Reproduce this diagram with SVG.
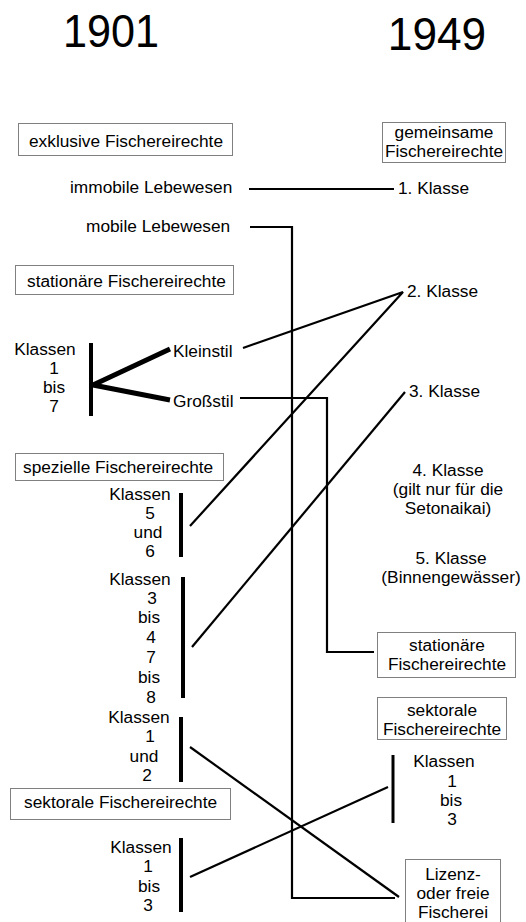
<svg xmlns="http://www.w3.org/2000/svg" width="526" height="922" viewBox="0 0 526 922">
<style>
text{font-family:"Liberation Sans",Arial,sans-serif;font-size:17.3px;fill:#000}
.t{font-size:47px;text-anchor:middle}
.c{text-anchor:middle}
.box{fill:#fff;stroke:#808080;stroke-width:1}
.ln{fill:none;stroke:#000;stroke-width:2.2}
.bar{fill:none;stroke:#000;stroke-width:4}
.br{fill:none;stroke:#000;stroke-width:5}
</style>
<rect width="526" height="922" fill="#fff"/>
<g id="connectors">
<path class="ln" d="M249,189 H394"/>
<path class="ln" d="M250,227 H292 V898 H395"/>
<path class="ln" d="M243,348 L403,292 L190,526"/>
<path class="ln" d="M240,398 H327 V652 H374"/>
<path class="ln" d="M405,392 L192,647"/>
<path class="ln" d="M190,747 L399,897"/>
<path class="ln" d="M190,877 L388,787"/>
<path class="br" d="M93,385 L170,349 M93,385 L170,400"/>
</g>
<g id="title1901"><text class="t" transform="translate(111,47) scale(0.92,1)">1901</text></g>
<g id="title1949"><text class="t" transform="translate(437,50) scale(0.94,1)">1949</text></g>
<g id="exklusive"><rect class="box" x="18.5" y="123.5" width="214" height="32"/><text x="29" y="147">exklusive Fischereirechte</text></g>
<g id="gemeinsame"><rect class="box" x="382.5" y="122.5" width="123" height="40"/><text class="c" x="444" y="138">gemeinsame</text><text class="c" x="444" y="157">Fischereirechte</text></g>
<g id="immobile"><text x="70" y="193">immobile Lebewesen</text></g>
<g id="klasse1"><text x="398" y="194">1. Klasse</text></g>
<g id="mobile"><text x="86" y="232">mobile Lebewesen</text></g>
<g id="stationaer-left"><rect class="box" x="15.5" y="265.5" width="218" height="29"/><text x="27" y="287">stationäre Fischereirechte</text></g>
<g id="klassen1-7"><text class="c" x="45" y="355">Klassen</text><text class="c" x="54" y="374">1</text><text class="c" x="54" y="393">bis</text><text class="c" x="54" y="412">7</text><path class="bar" d="M91,343 V416"/></g>
<g id="kleinstil"><text x="173" y="357">Kleinstil</text></g>
<g id="grossstil"><text x="173" y="407">Großstil</text></g>
<g id="klasse2"><text x="407" y="297">2. Klasse</text></g>
<g id="klasse3"><text x="409" y="397">3. Klasse</text></g>
<g id="spezielle"><rect class="box" x="15.5" y="453.5" width="208" height="27"/><text x="23" y="473">spezielle Fischereirechte</text></g>
<g id="klassen5-6"><text class="c" x="140" y="500">Klassen</text><text class="c" x="150" y="519">5</text><text class="c" x="148" y="538">und</text><text class="c" x="150" y="557">6</text><path class="bar" d="M181,493 V557"/></g>
<g id="klasse4"><text class="c" x="448" y="476">4. Klasse</text><text class="c" x="448" y="495">(gilt nur für die</text><text class="c" x="448" y="514">Setonaikai)</text></g>
<g id="klasse5"><text class="c" x="451" y="564">5. Klasse</text><text class="c" x="451" y="583">(Binnengewässer)</text></g>
<g id="klassen3-8"><text class="c" x="140" y="585">Klassen</text><text class="c" x="152" y="604">3</text><text class="c" x="149" y="623">bis</text><text class="c" x="151" y="643">4</text><text class="c" x="151" y="663">7</text><text class="c" x="149" y="683">bis</text><text class="c" x="151" y="703">8</text><path class="bar" d="M183,577 V698"/></g>
<g id="stationaer-right"><rect class="box" x="377.5" y="632.5" width="138" height="45"/><text class="c" x="447" y="651">stationäre</text><text class="c" x="447" y="670">Fischereirechte</text></g>
<g id="sektorale-right"><rect class="box" x="377.5" y="697.5" width="129" height="42"/><text class="c" x="442" y="716">sektorale</text><text class="c" x="442" y="735">Fischereirechte</text></g>
<g id="klassen1-2"><text class="c" x="139" y="723">Klassen</text><text class="c" x="150" y="742">1</text><text class="c" x="144" y="762">und</text><text class="c" x="147" y="781">2</text><path class="bar" d="M181,717 V782"/></g>
<g id="sektorale-left"><rect class="box" x="10.5" y="788.5" width="220" height="31"/><text x="24" y="808">sektorale Fischereirechte</text></g>
<g id="klassen1-3-right"><text class="c" x="444" y="767">Klassen</text><text class="c" x="452" y="787">1</text><text class="c" x="451" y="806">bis</text><text class="c" x="452" y="825">3</text><path class="bar" d="M393,755 V823" style="stroke-width:3"/></g>
<g id="klassen1-3-left"><text class="c" x="141" y="853">Klassen</text><text class="c" x="148" y="872">1</text><text class="c" x="149" y="892">bis</text><text class="c" x="148" y="911">3</text><path class="bar" d="M181,838 V912"/></g>
<g id="lizenz"><rect class="box" x="405.5" y="859.5" width="95" height="70"/><text class="c" x="453" y="880">Lizenz-</text><text class="c" x="453" y="899">oder freie</text><text class="c" x="453" y="918">Fischerei</text></g>
</svg>
